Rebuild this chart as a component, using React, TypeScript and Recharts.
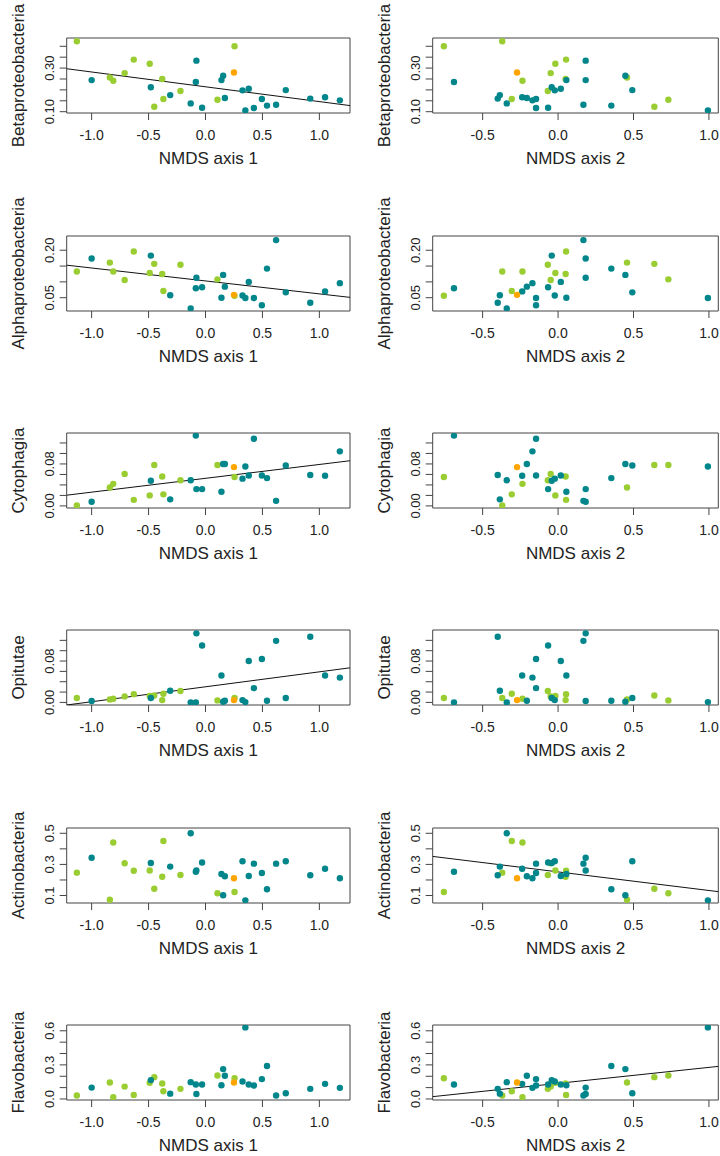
import React from "react";
import { ScatterChart, Scatter, XAxis, YAxis, ReferenceArea, ReferenceLine } from "recharts";

// one entry per sample: g = green, t = teal, o = orange
const group = ["g","t","g","g","g","g","g","t","g","g","g","t","g","t","t","t","t","g","t","t","t","o","g","t","t","t","t","t","t","t","t","t","t","t"];

const nmds1 = [-1.13, -1.0, -0.84, -0.81, -0.71, -0.63, -0.49, -0.48, -0.45, -0.38, -0.37, -0.31, -0.22, -0.13, -0.085, -0.08, -0.03, 0.105, 0.14, 0.155, 0.17, 0.25, 0.255, 0.325, 0.35, 0.38, 0.425, 0.495, 0.54, 0.62, 0.705, 0.92, 1.05, 1.18];
const nmds2 = [-0.37, 0.183, 0.457, -0.236, -0.049, 0.053, -0.018, -0.042, 0.638, 0.05, -0.307, -0.386, -0.068, -0.34, -0.69, 0.183, -0.066, 0.731, 0.055, 0.446, -0.207, -0.272, -0.757, -0.022, 0.993, 0.018, -0.146, -0.146, 0.353, 0.168, 0.492, -0.4, -0.238, -0.17];

const beta = [0.423, 0.245, 0.257, 0.242, 0.277, 0.339, 0.32, 0.212, 0.123, 0.25, 0.158, 0.176, 0.195, 0.138, 0.236, 0.334, 0.118, 0.155, 0.245, 0.265, 0.163, 0.28, 0.4, 0.198, 0.106, 0.205, 0.117, 0.158, 0.128, 0.132, 0.199, 0.16, 0.166, 0.152];
const alpha = [0.133, 0.174, 0.161, 0.133, 0.106, 0.196, 0.128, 0.183, 0.157, 0.125, 0.071, 0.058, 0.154, 0.016, 0.08, 0.113, 0.083, 0.108, 0.05, 0.122, 0.085, 0.059, 0.056, 0.057, 0.049, 0.1, 0.049, 0.026, 0.142, 0.232, 0.067, 0.034, 0.07, 0.096];
const cyto = [0.001, 0.008, 0.035, 0.042, 0.061, 0.0115, 0.02, 0.048, 0.078, 0.056, 0.022, 0.0125, 0.049, 0.049, 0.134, 0.032, 0.032, 0.078, 0.027, 0.08, 0.08, 0.074, 0.055, 0.052, 0.075, 0.058, 0.128, 0.058, 0.053, 0.0096, 0.077, 0.059, 0.0575, 0.104];
const opit = [0.0084, 0.0026, 0.0058, 0.0071, 0.0116, 0.016, 0.0123, 0.0084, 0.0135, 0.0045, 0.0168, 0.0226, 0.022, 0, 0, 0.1335, 0.11, 0.0039, 0.052, 0.0013, 0.0032, 0.0045, 0.0084, 0.0045, 0.0006, 0.08, 0.0277, 0.0839, 0.0032, 0.119, 0.0084, 0.127, 0.052, 0.048];
const actino = [0.247, 0.343, 0.073, 0.441, 0.307, 0.259, 0.261, 0.309, 0.144, 0.221, 0.45, 0.286, 0.232, 0.5, 0.253, 0.261, 0.312, 0.115, 0.238, 0.102, 0.224, 0.211, 0.123, 0.32, 0.069, 0.226, 0.305, 0.245, 0.14, 0.305, 0.32, 0.23, 0.272, 0.211];
const flavo = [0.03, 0.1, 0.145, 0.015, 0.109, 0.036, 0.142, 0.166, 0.192, 0.136, 0.068, 0.047, 0.089, 0.148, 0.127, 0.044, 0.127, 0.207, 0.121, 0.263, 0.204, 0.145, 0.183, 0.154, 0.63, 0.127, 0.118, 0.175, 0.29, 0.03, 0.05, 0.089, 0.133, 0.098];

const taxonNames = ["Betaproteobacteria", "Alphaproteobacteria", "Cytophagia", "Opitutae", "Actinobacteria", "Flavobacteria"];
const taxonValues = [beta, alpha, cyto, opit, actino, flavo];

const xTicks1 = [-1, -0.5, 0, 0.5, 1];
const xTicks2 = [-0.5, 0, 0.5, 1];
const xDomain1 = [-1.219, 1.269];
const xDomain2 = [-0.831, 1.062];

const yTicks = [
  [0.1, 0.15, 0.2, 0.25, 0.3, 0.35, 0.4],
  [0.05, 0.1, 0.15, 0.2],
  [0, 0.02, 0.04, 0.06, 0.08, 0.1, 0.12],
  [0, 0.02, 0.04, 0.06, 0.08, 0.1, 0.12],
  [0.1, 0.2, 0.3, 0.4, 0.5],
  [0, 0.1, 0.2, 0.3, 0.4, 0.5, 0.6],
];
const yLabels = [[0.1, 0.3], [0.05, 0.2], [0, 0.08], [0, 0.08], [0.1, 0.3, 0.5], [0, 0.3, 0.6]];
const yDigits = [2, 2, 2, 2, 1, 1];
const yDomains = [[0.094, 0.438], [0.008, 0.245], [-0.004, 0.139], [-0.005, 0.14], [0.052, 0.534], [-0.009, 0.651]];

// fitted lines [intercept, slope], null = no line drawn
const fits1 = [[0.2142, -0.0679], [0.103, -0.0409], [0.0526, 0.0264], [0.0302, 0.0289], null, null];
const fits2 = [null, null, null, null, [0.252, -0.1196], [0.1374, 0.1407]];

const colours: Record<string, string> = { g: "#9ACD32", t: "#00868B", o: "#FFA500" };

const W = 360;
const TOP = 45;
const PLOT_H = 75;
const AXIS_H = 60;
const Y_W = 55;

function Panel({ row, col }: { row: number; col: number }) {
  const xs = col === 0 ? nmds1 : nmds2;
  const ys = taxonValues[row];
  const xDomain = col === 0 ? xDomain1 : xDomain2;
  const xTicks = col === 0 ? xTicks1 : xTicks2;
  const yDomain = yDomains[row];
  const fit = col === 0 ? fits1[row] : fits2[row];
  const plotLeft = col === 0 ? 66.7 : 72.7;
  const plotRight = col === 0 ? 350 : 358.3;
  const points = ys.map((y, i) => ({ x: xs[i], y, g: group[i] }));

  const dot = (c: string) => (p: any) => <circle cx={p.cx} cy={p.cy} r={3.2} fill={c} />;

  const yTick = (p: any) => {
    const v = p.payload.value;
    if (!yLabels[row].some((l) => Math.abs(l - v) < 1e-9)) return <g />;
    const tx = plotLeft - 13;
    return (
      <text x={tx} y={p.y} transform={`rotate(-90 ${tx} ${p.y})`} textAnchor="middle" fontSize={13} fill="#222">
        {v.toFixed(yDigits[row])}
      </text>
    );
  };

  const xTitle = () => (
    <text x={(plotLeft + plotRight) / 2} y={TOP + PLOT_H + 50.6} textAnchor="middle" fontSize={17} fill="#222">
      {col === 0 ? "NMDS axis 1" : "NMDS axis 2"}
    </text>
  );
  const yTitleX = plotLeft - 42.5;
  const yTitleY = TOP + PLOT_H / 2;
  const yTitle = () => (
    <text x={yTitleX} y={yTitleY} transform={`rotate(-90 ${yTitleX} ${yTitleY})`} textAnchor="middle" fontSize={17} fill="#222">
      {taxonNames[row]}
    </text>
  );

  return (
    <ScatterChart
      width={W}
      height={TOP + PLOT_H + AXIS_H}
      margin={{ top: TOP, right: W - plotRight, bottom: 0, left: plotLeft - Y_W }}
    >
      <XAxis
        type="number"
        dataKey="x"
        scale="linear"
        domain={xDomain}
        ticks={xTicks}
        interval={0}
        allowDataOverflow
        axisLine={false}
        tickSize={7}
        tickMargin={10}
        tickLine={{ stroke: "#444" }}
        tick={{ fontSize: 14, fill: "#222" }}
        tickFormatter={(v: number) => v.toFixed(1)}
        height={AXIS_H}
        label={{ content: xTitle }}
      />
      <YAxis
        type="number"
        dataKey="y"
        scale="linear"
        domain={yDomain}
        ticks={yTicks[row]}
        interval={0}
        allowDataOverflow
        axisLine={false}
        tickSize={7}
        tickLine={{ stroke: "#444" }}
        tick={yTick}
        width={Y_W}
        label={{ content: yTitle }}
      />
      <ReferenceArea x1={xDomain[0]} x2={xDomain[1]} y1={yDomain[0]} y2={yDomain[1]} fill="none" stroke="#444" strokeWidth={1} />
      <Scatter data={points.filter((p) => p.g === "g")} shape={dot(colours.g)} isAnimationActive={false} />
      <Scatter data={points.filter((p) => p.g === "t")} shape={dot(colours.t)} isAnimationActive={false} />
      <Scatter data={points.filter((p) => p.g === "o")} shape={dot(colours.o)} isAnimationActive={false} />
      {fit && (
        <ReferenceLine
          segment={[
            { x: xDomain[0], y: fit[0] + fit[1] * xDomain[0] },
            { x: xDomain[1], y: fit[0] + fit[1] * xDomain[1] },
          ]}
          stroke="#111"
          strokeWidth={1}
          ifOverflow="hidden"
        />
      )}
    </ScatterChart>
  );
}

const boxTops = [38.3, 235.6, 432.9, 630.2, 827.5, 1024.8];

export default function App() {
  return (
    <div
      style={{
        position: "absolute",
        left: 0,
        top: 0,
        width: 720,
        height: 1156,
        overflow: "hidden",
        background: "#fff",
        fontFamily: "'Liberation Sans', Arial, Helvetica, sans-serif",
      }}
    >
      {taxonNames.map((name, row) =>
        [0, 1].map((col) => (
          <div key={name + col} style={{ position: "absolute", left: col * W, top: boxTops[row] - TOP }}>
            <Panel row={row} col={col} />
          </div>
        ))
      )}
    </div>
  );
}
